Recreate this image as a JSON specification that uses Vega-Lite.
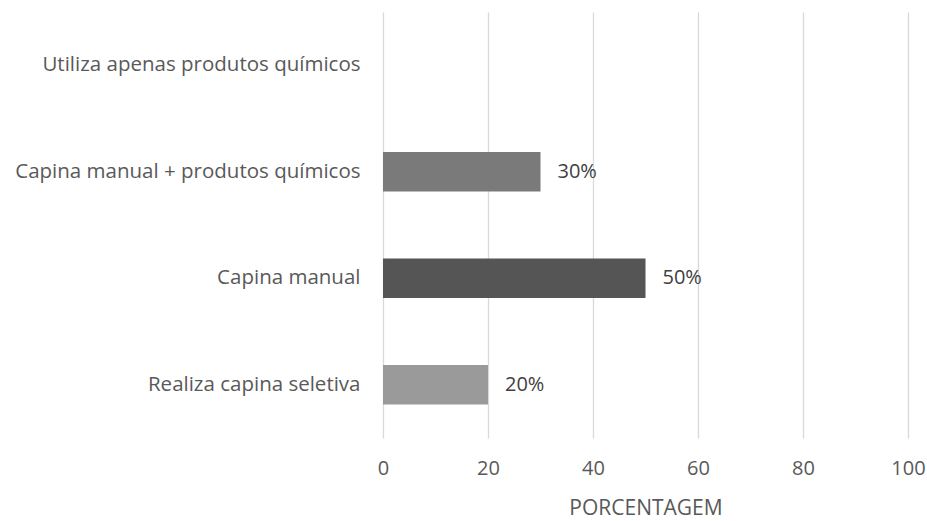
{
  "$schema": "https://vega.github.io/schema/vega-lite/v6.json",
  "autosize": "none",
  "width": 525,
  "height": 426,
  "padding": {"left": 383, "top": 12, "right": 19, "bottom": 83},
  "background": "white",
  "data": {
    "values": [
      {"categoria": "Utiliza apenas produtos químicos", "valor": 0, "rotulo": ""},
      {"categoria": "Capina manual + produtos químicos", "valor": 30, "rotulo": "30%"},
      {"categoria": "Capina manual", "valor": 50, "rotulo": "50%"},
      {"categoria": "Realiza capina seletiva", "valor": 20, "rotulo": "20%"}
    ]
  },
  "config": {
    "view": {"stroke": null},
    "font": "Open Sans",
    "axis": {"labelColor": "#595959", "titleColor": "#595959", "labelFont": "Open Sans", "titleFont": "Open Sans"}
  },
  "encoding": {
    "y": {
      "field": "categoria",
      "type": "nominal",
      "sort": null,
      "title": null,
      "scale": {"paddingInner": 0.63, "paddingOuter": 0.315},
      "axis": {"domain": false, "ticks": false, "grid": false, "labelFontSize": 20.5, "labelPadding": 23, "labelLimit": 400}
    },
    "x": {
      "field": "valor",
      "type": "quantitative",
      "scale": {"domain": [0, 100]},
      "title": "PORCENTAGEM",
      "axis": {
        "values": [0, 20, 40, 60, 80, 100],
        "domain": false,
        "ticks": false,
        "grid": true,
        "gridColor": "#d9d9d9",
        "gridWidth": 1.3,
        "labelFlush": false,
        "labelFontSize": 20,
        "labelPadding": 20,
        "titleFontSize": 21,
        "titleFontWeight": "normal",
        "titlePadding": 19
      }
    }
  },
  "layer": [
    {
      "mark": {"type": "bar"},
      "encoding": {
        "color": {
          "field": "categoria",
          "type": "nominal",
          "legend": null,
          "scale": {
            "domain": ["Utiliza apenas produtos químicos", "Capina manual + produtos químicos", "Capina manual", "Realiza capina seletiva"],
            "range": ["#808080", "#7a7a7a", "#555555", "#9a9a9a"]
          }
        }
      }
    },
    {
      "transform": [{"filter": "datum.valor > 0"}],
      "mark": {"type": "text", "align": "left", "baseline": "middle", "dx": 17, "fontSize": 20, "color": "#404040", "font": "Open Sans"},
      "encoding": {"text": {"field": "rotulo"}}
    }
  ]
}
